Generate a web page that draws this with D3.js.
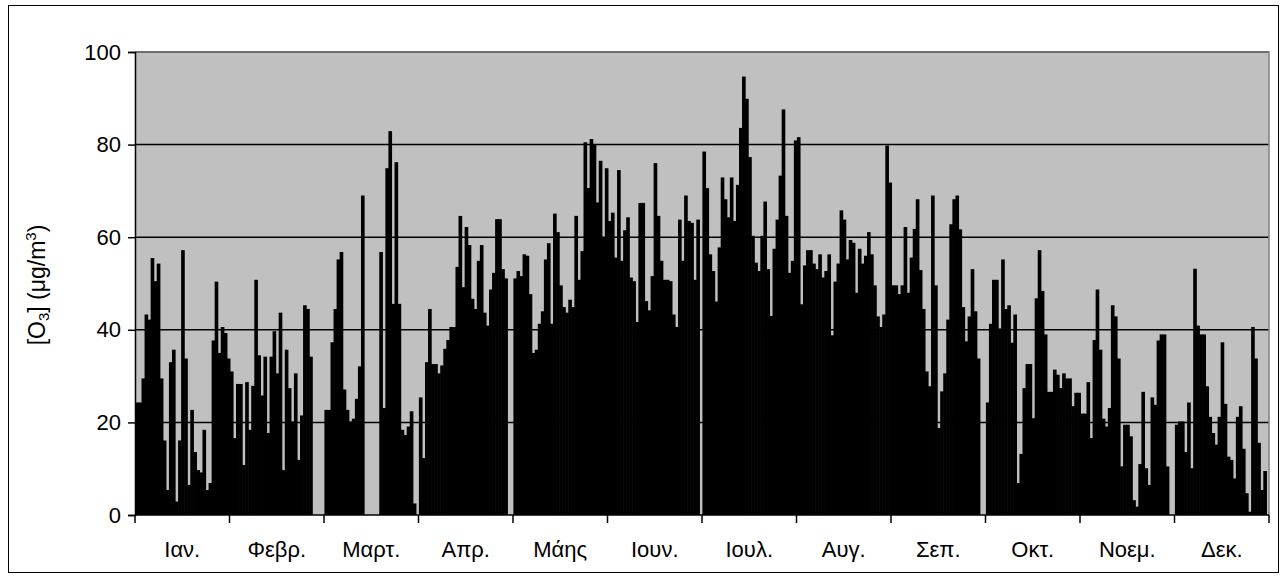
<!DOCTYPE html>
<html>
<head>
<meta charset="utf-8">
<script src="https://cdn.jsdelivr.net/npm/d3@7"></script>
<style>
  html, body { margin: 0; padding: 0; background: #ffffff; }
  svg { display: block; font-family: "Liberation Sans", Arial, sans-serif; }
</style>
</head>
<body>
<svg id="chart" width="1287" height="579"></svg>
<script>
// ---- data: daily O3, each month laid out in 31 slots (null = no value) ----
const monthLabels = ["Ιαν.", "Φεβρ.", "Μαρτ.", "Απρ.", "Μάης", "Ιουν.", "Ιουλ.", "Αυγ.", "Σεπ.", "Οκτ.", "Νοεμ.", "Δεκ."];
const yTicks = [0, 20, 40, 60, 80, 100];

const jan = [24.3, 24.3, 29.5, 43.3, 42.2, 55.5, 50.5, 54.3, 29.5, 16.1, 5.4, 33.0, 35.7, 2.9, 16.1, 57.2, 33.8, 6.5, 22.7, 13.6, 9.7, 9.2, 18.4, 5.4, 6.9, 37.7, 50.4, 35.0, 40.6, 39.3, 33.8];
const feb = [31.0, 16.6, 28.3, 28.3, 10.8, 28.7, 18.4, 27.9, 50.8, 34.5, 25.8, 34.2, 17.7, 34.2, 39.7, 30.6, 43.7, 9.7, 35.7, 27.4, 20.2, 30.6, 11.9, 21.5, 45.3, 44.5, 34.2, null, null, null, null];
const mar = [22.7, 22.7, 37.3, 44.5, 55.2, 56.8, 27.1, 22.7, 20.2, 20.8, 25.1, 32.1, 69.0, null, null, null, null, null, 56.8, 23.1, 74.9, 82.9, 45.6, 76.2, 45.6, 18.4, 17.3, 19.1, 22.4, 2.5, null];
const apr = [25.4, 12.3, 33.0, 44.5, 32.6, 32.6, 30.6, 32.3, 35.9, 37.8, 40.6, 40.6, 53.6, 64.6, 49.2, 62.2, 58.3, 46.7, 44.5, 54.9, 58.3, 43.7, 40.9, 48.7, 52.3, 63.9, 63.9, 53.1, 51.1, null, null];
const may = [51.1, 52.7, 51.6, 56.3, 56.0, 47.7, 35.0, 35.7, 41.3, 44.0, 55.2, 58.7, 41.3, 65.1, 61.1, 49.6, 44.9, 43.7, 46.5, 44.9, 64.6, 50.8, 57.0, 80.5, 70.6, 81.2, 80.0, 67.5, 76.5, 59.9, 74.9];
const jun = [63.5, 65.3, 55.6, 74.5, 54.9, 61.5, 64.3, 51.3, 50.5, 41.7, 67.4, 67.4, 46.2, 44.2, 51.6, 76.0, 64.6, 54.9, 50.8, 50.8, 50.5, 43.3, 40.6, 63.8, 54.9, 69.0, 63.5, 63.1, 50.8, 63.8, null];
const jul = [78.5, 70.6, 56.3, 52.7, 46.1, 57.8, 72.9, 68.2, 64.3, 72.9, 63.5, 71.3, 83.6, 94.7, 89.9, 77.3, 60.3, 54.5, 52.7, 60.3, 67.7, 53.1, 43.0, 57.5, 63.8, 73.3, 87.6, 64.6, 52.3, 54.9, 80.9];
const aug = [81.6, 45.5, 53.9, 57.2, 57.2, 54.3, 53.1, 56.3, 51.3, 52.7, 56.3, 38.8, 50.4, 54.3, 65.8, 63.8, 55.2, 59.4, 58.8, 48.0, 57.5, 54.3, 56.0, 61.1, 56.3, 49.6, 42.9, 40.6, 43.3, 79.8, 71.8];
const sep = [49.6, 49.6, 47.7, 49.6, 62.2, 48.0, 55.6, 61.8, 68.2, 52.9, 44.5, 31.0, 27.8, 69.0, 49.6, 18.8, 26.7, 30.6, 42.2, 62.8, 68.2, 69.0, 61.7, 44.9, 37.5, 42.9, 53.1, 44.0, 33.8, null, null];
const oct = [24.3, 41.3, 50.8, 50.8, 40.3, 55.2, 44.5, 45.3, 37.2, 43.3, 6.9, 13.2, 27.4, 32.6, 32.6, 20.9, 46.8, 57.2, 48.4, 39.0, 26.6, 26.6, 31.4, 30.3, 27.4, 30.6, 29.5, 29.5, 23.5, 26.4, 26.4];
const nov = [21.9, 21.9, 28.7, 16.6, 37.8, 48.7, 35.7, 20.8, 19.1, 23.1, 45.3, 42.9, 33.8, 10.5, 19.5, 19.5, 17.0, 3.2, 1.8, 11.0, 26.6, 10.1, 6.5, 25.4, 23.8, 37.7, 39.0, 39.0, 10.5, null, null];
const dec = [19.5, 20.2, 20.2, 13.6, 24.3, 10.1, 53.2, 40.9, 39.0, 39.0, 27.8, 21.2, 17.7, 15.2, 21.2, 37.3, 24.0, 12.6, 11.9, 7.9, 21.2, 23.5, 14.3, 4.7, 0.7, 40.6, 33.8, 15.6, 5.4, 9.5, null];

const months = [jan, feb, mar, apr, may, jun, jul, aug, sep, oct, nov, dec];
const slotsPerMonth = 31;
const data = [];
months.forEach((arr, m) => arr.forEach((v, d) => data.push({ i: m * slotsPerMonth + d, v })));

// ---- layout ----
const svg = d3.select("#chart");
const plot = { left: 135, right: 1269, top: 52, bottom: 515 };
const font = "Liberation Sans, Arial, sans-serif";

svg.append("rect").attr("x", 8.5).attr("y", 5.5).attr("width", 1270).attr("height", 567)
  .attr("fill", "#ffffff").attr("stroke", "#000").attr("stroke-width", 1);

const x = d3.scaleBand().domain(d3.range(data.length)).range([plot.left, plot.right]).padding(0);
const y = d3.scaleLinear().domain([0, 100]).range([plot.bottom, plot.top]);

// plot area
svg.append("rect").attr("x", plot.left).attr("y", plot.top)
  .attr("width", plot.right - plot.left).attr("height", plot.bottom - plot.top)
  .attr("fill", "#c0c0c0");

// gridlines
svg.append("g").selectAll("line").data(yTicks.filter(t => t > 0)).join("line")
  .attr("x1", plot.left).attr("x2", plot.right)
  .attr("y1", d => y(d)).attr("y2", d => y(d))
  .attr("stroke", "#000").attr("stroke-width", 1.5);

// bars
const bw = x.bandwidth();
svg.append("g").selectAll("rect").data(data.filter(d => d.v != null)).join("rect")
  .attr("x", d => x(d.i) + 0.4)
  .attr("width", bw + 0.6)
  .attr("y", d => y(d.v))
  .attr("height", d => y(0) - y(d.v))
  .attr("fill", "#000");

// plot border top/right
svg.append("path")
  .attr("d", `M${plot.left},${plot.top}H${plot.right}V${plot.bottom}`)
  .attr("fill", "none").attr("stroke", "#808080").attr("stroke-width", 1.5);

// y axis
const yAxis = d3.axisLeft(y).tickValues(yTicks).tickSize(7).tickPadding(7).tickFormat(d3.format("d"));
const gy = svg.append("g").attr("transform", `translate(${plot.left},0)`).call(yAxis);
gy.select(".domain").attr("stroke", "#000").attr("stroke-width", 1.5);
gy.selectAll(".tick line").attr("stroke", "#000").attr("stroke-width", 1.5);
gy.selectAll(".tick text").attr("font-size", 22).attr("fill", "#000").attr("font-family", font);

// x axis: month ticks every 31 slots
const tickIdx = d3.range(0, months.length * slotsPerMonth + 1, slotsPerMonth);
const xPos = i => i < data.length ? x(i) : plot.right;
const gx = svg.append("g");
gx.append("line").attr("x1", plot.left).attr("x2", plot.right)
  .attr("y1", plot.bottom).attr("y2", plot.bottom)
  .attr("stroke", "#000").attr("stroke-width", 1.5);
gx.selectAll("line.tk").data(tickIdx).join("line").attr("class", "tk")
  .attr("x1", d => xPos(d)).attr("x2", d => xPos(d))
  .attr("y1", plot.bottom).attr("y2", plot.bottom + 8)
  .attr("stroke", "#000").attr("stroke-width", 1.5);
gx.selectAll("text").data(monthLabels).join("text")
  .attr("x", (d, m) => (xPos(m * slotsPerMonth) + xPos((m + 1) * slotsPerMonth)) / 2)
  .attr("y", 557)
  .attr("text-anchor", "middle").attr("font-size", 22).attr("fill", "#000")
  .text(d => d);

// y axis title
const title = svg.append("text")
  .attr("transform", "translate(45,285) rotate(-90)")
  .attr("text-anchor", "middle").attr("font-size", 23).attr("fill", "#000");
title.append("tspan").text("[O");
title.append("tspan").attr("font-size", 15).attr("dy", 4).text("3");
title.append("tspan").attr("dy", -4).text("] (μg/m");
title.append("tspan").attr("font-size", 15).attr("dy", -9).text("3");
title.append("tspan").attr("dy", 9).text(")");
</script>
</body>
</html>
